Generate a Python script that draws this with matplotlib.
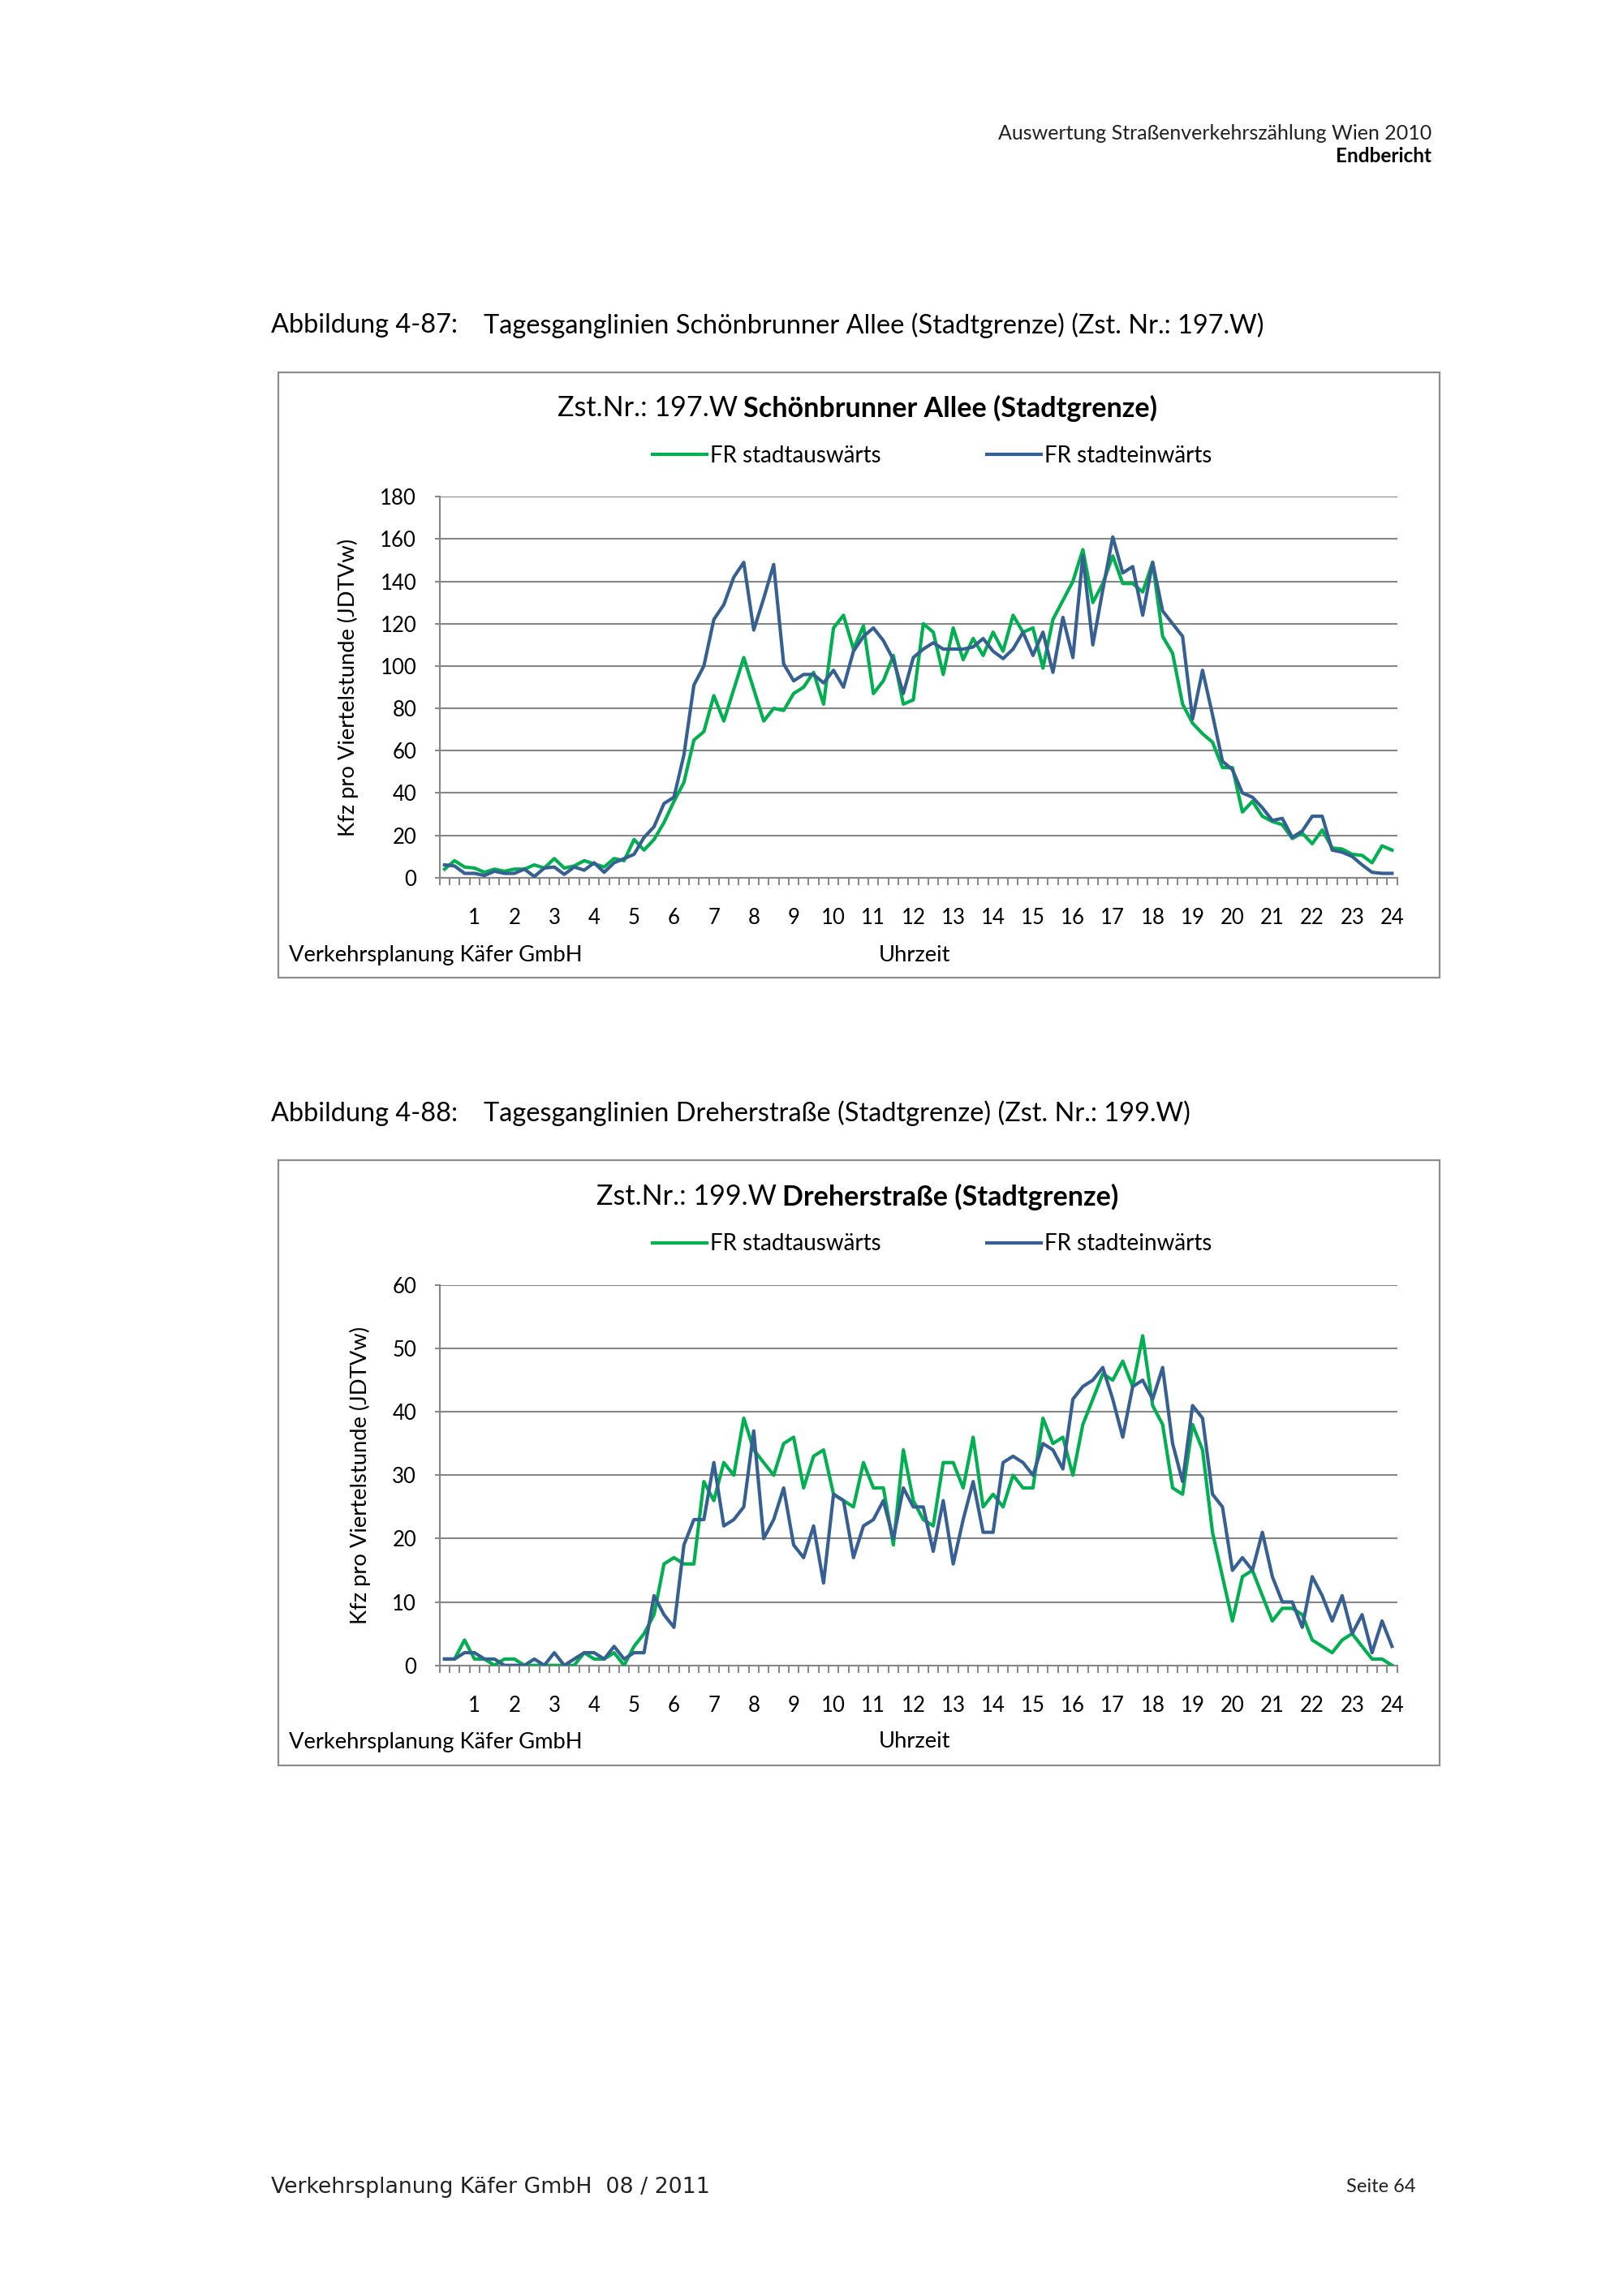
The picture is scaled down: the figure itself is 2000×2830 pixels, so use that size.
import matplotlib
matplotlib.use("Agg")
import matplotlib.pyplot as plt
from matplotlib.lines import Line2D
from matplotlib.patches import Rectangle
from matplotlib.ticker import FixedLocator
import numpy as np

W, H = 2000, 2830

HOURS = list(range(1, 25))
HOUR_LABELS = [str(h) for h in HOURS]
SERIES_LABELS = ["FR stadtauswärts", "FR stadteinwärts"]

# Zst. 197.W Schönbrunner Allee, Kfz pro Viertelstunde (0:15 ... 24:00)
SCH_OUT = [4, 8, 5, 4.5, 2.5, 4, 3, 4, 4, 6, 4.5, 9, 4.5, 5.5, 8, 6.5, 5, 9, 8, 18, 13, 18, 26, 36,
           45, 65, 69, 86, 74, 89, 104, 89, 74, 80, 79, 87, 90, 97, 82, 118, 124, 108, 119, 87, 93, 105, 82, 84,
           120, 116, 96, 118, 103, 113, 105, 116, 107, 124, 116, 118, 99, 122, 131, 140, 155, 130, 139, 152, 139, 139, 135, 149,
           114, 106, 82, 73, 68, 64, 52, 52, 31, 36, 29, 26.5, 25, 18.5, 21, 16, 22.5, 14, 13.5, 11, 10.5, 7, 15, 13]
SCH_IN = [6, 5.5, 2, 2, 1, 3, 2, 2, 4, 0.5, 4.5, 5, 1.5, 5, 3.5, 7, 2.5, 7, 9, 11, 19, 24, 35, 38,
          58, 91, 100, 122, 129, 142, 149, 117, 132, 148, 101, 93, 96, 96, 92, 98, 90, 107, 114, 118, 112, 103, 87, 104,
          108, 111, 108, 108, 108, 109, 113, 107, 103.5, 108, 116, 105, 116, 97, 123, 104, 152, 110, 136, 161, 144, 147, 124, 149,
          126, 120, 114, 75, 98, 77, 55, 51, 40, 38, 33, 27, 28, 19, 22, 29, 29, 13, 12, 10, 6, 2.5, 2, 2]

# Zst. 199.W Dreherstraße
DRE_OUT = [1, 1, 4, 1, 1, 0, 1, 1, 0, 0, 0, 0, 0, 0, 2, 1, 1, 2, 0, 3, 5, 8, 16, 17,
           16, 16, 29, 26, 32, 30, 39, 34, 32, 30, 35, 36, 28, 33, 34, 27, 26, 25, 32, 28, 28, 19, 34, 26,
           23, 22, 32, 32, 28, 36, 25, 27, 25, 30, 28, 28, 39, 35, 36, 30, 38, 42, 46, 45, 48, 44, 52, 41,
           38, 28, 27, 38, 34, 21, 14, 7, 14, 15, 11, 7, 9, 9, 8, 4, 3, 2, 4, 5, 3, 1, 1, 0]
DRE_IN = [1, 1, 2, 2, 1, 1, 0, 0, 0, 1, 0, 2, 0, 1, 2, 2, 1, 3, 1, 2, 2, 11, 8, 6,
          19, 23, 23, 32, 22, 23, 25, 37, 20, 23, 28, 19, 17, 22, 13, 27, 26, 17, 22, 23, 26, 20, 28, 25,
          25, 18, 26, 16, 23, 29, 21, 21, 32, 33, 32, 30, 35, 34, 31, 42, 44, 45, 47, 42, 36, 44, 45, 42,
          47, 35, 29, 41, 39, 27, 25, 15, 17, 15, 21, 14, 10, 10, 6, 14, 11, 7, 11, 5, 8, 2, 7, 3]

GREEN = "#00B050"
BLUE = "#376092"
GRID = "#868686"
BORDER = "#8C8C8C"
CHART_FONT = ["Lato", "DejaVu Sans"]
PAGE_FONT = ["Lato", "DejaVu Sans"]
FS_TICK = 18.5
FS = 19.7
LW = 3.0


def px(x, y):
    """Pixel position (from top left) -> figure fraction."""
    return x / W, 1 - y / H


def two_part_title(fig, cx, y, normal, bold, size):
    r = fig.canvas.get_renderer()
    t1 = fig.text(0, 0, normal, fontsize=size, family=CHART_FONT, va="center_baseline")
    t2 = fig.text(0, 0, bold, fontsize=size, family=CHART_FONT, weight="bold", va="center_baseline")
    w1 = t1.get_window_extent(r).width
    w2 = t2.get_window_extent(r).width
    gap = size * 0.3
    left = cx - (w1 + gap + w2) / 2
    t1.set_position(px(left, y))
    t2.set_position(px(left + w1 + gap, y))


def draw_chart(fig, c, out_vals, in_vals, ymax, ystep):
    # outer chart frame
    x0, y0 = px(343, c["box_bottom"])
    fig.patches.append(Rectangle((x0, y0), (1773.5 - 343) / W, (c["box_bottom"] - c["box_top"]) / H,
                                 transform=fig.transFigure, fill=False, edgecolor=BORDER, lw=1.6))

    left, right = 541.7, 1721.5
    ax = fig.add_axes([left / W, 1 - c["plot_bottom"] / H, (right - left) / W,
                       (c["plot_bottom"] - c["plot_top"]) / H])
    x = np.arange(len(out_vals)) + 0.5
    ax.plot(x, out_vals, color=GREEN, lw=LW, solid_joinstyle="round", zorder=3)
    ax.plot(x, in_vals, color=BLUE, lw=LW, solid_joinstyle="round", zorder=4)

    ax.set_xlim(0, len(out_vals))
    ax.set_ylim(0, ymax)
    ax.set_yticks(np.arange(0, ymax + 1, ystep))
    ax.yaxis.grid(True, color=GRID, lw=1.5)
    ax.set_axisbelow(True)

    ax.xaxis.set_major_locator(FixedLocator([4 * h - 0.5 for h in HOURS]))
    ax.set_xticklabels(HOUR_LABELS)
    ax.xaxis.set_minor_locator(FixedLocator(np.arange(0, len(out_vals) + 1)))
    ax.tick_params(axis="x", which="major", length=0, pad=27, labelsize=FS_TICK)
    ax.tick_params(axis="x", which="minor", length=6.5, width=1.4, color=GRID, direction="out")
    ax.tick_params(axis="y", which="major", length=4, width=1.4, color=GRID, pad=16.5, labelsize=FS_TICK)
    for lab in ax.get_xticklabels() + ax.get_yticklabels():
        lab.set_family(CHART_FONT)

    for s in ("top", "right"):
        ax.spines[s].set_visible(False)
    for s in ("left", "bottom"):
        ax.spines[s].set_color(GRID)
        ax.spines[s].set_linewidth(1.5)

    ax.set_ylabel("Kfz pro Viertelstunde (JDTVw)", fontsize=FS, family=CHART_FONT, labelpad=19)

    two_part_title(fig, 1056.5, c["title_y"], c["title_a"], c["title_b"], 24.6)

    handles = [Line2D([], [], color=GREEN, lw=LW), Line2D([], [], color=BLUE, lw=LW)]
    fig.legend(handles, SERIES_LABELS, loc="center", bbox_to_anchor=px(1148.5, c["legend_y"]),
               ncol=2, frameon=False, prop={"family": CHART_FONT, "size": 20},
               handlelength=2.4, handletextpad=0.15, columnspacing=4.7)

    fig.text(*px(355.8, c["bottom_y"]), "Verkehrsplanung Käfer GmbH", fontsize=FS,
             family=CHART_FONT, va="center")
    fig.text(*px(1127, c["bottom_y"]), "Uhrzeit", fontsize=FS, family=CHART_FONT,
             ha="center", va="center")

    fig.text(*px(334, c["caption_y"]), c["cap_a"], fontsize=23.4, family=PAGE_FONT, va="center")
    fig.text(*px(596, c["caption_y"]), c["cap_b"], fontsize=23.4, family=PAGE_FONT, va="center")
    return ax


def main() -> None:
    fig = plt.figure(figsize=(W / 100, H / 100), dpi=100)
    fig.patch.set_facecolor("white")

    fig.text(*px(1764.5, 164), "Auswertung Straßenverkehrszählung Wien 2010", fontsize=18,
             family=PAGE_FONT, ha="right", va="center", color="#222222")
    fig.text(*px(1764.5, 193), "Endbericht", fontsize=17.5, family=PAGE_FONT, weight="bold",
             ha="right", va="center")

    chart1 = dict(box_top=458.7, box_bottom=1204.6, plot_top=612.3, plot_bottom=1081.7,
                  title_y=500.3, legend_y=561.7, bottom_y=1177.5, caption_y=401,
                  title_a="Zst.Nr.: 197.W", title_b="Schönbrunner Allee (Stadtgrenze)",
                  cap_a="Abbildung 4-87:",
                  cap_b="Tagesganglinien Schönbrunner Allee (Stadtgrenze) (Zst. Nr.: 197.W)")
    chart2 = dict(box_top=1430.4, box_bottom=2176.2, plot_top=1584.0, plot_bottom=2052.7,
                  title_y=1472, legend_y=1533.3, bottom_y=2147, caption_y=1372.6,
                  title_a="Zst.Nr.: 199.W", title_b="Dreherstraße (Stadtgrenze)",
                  cap_a="Abbildung 4-88:",
                  cap_b="Tagesganglinien Dreherstraße (Stadtgrenze) (Zst. Nr.: 199.W)")

    draw_chart(fig, chart1, SCH_OUT, SCH_IN, 180, 20)
    draw_chart(fig, chart2, DRE_OUT, DRE_IN, 60, 10)

    fig.text(*px(334, 2696), "Verkehrsplanung Käfer GmbH  08 / 2011", fontsize=19.3,
             family=["DejaVu Sans"], va="center", color="#222222")
    fig.text(*px(1744.6, 2696), "Seite 64", fontsize=17, family=PAGE_FONT, ha="right",
             va="center", color="#222222")

    fig.savefig("out.png", dpi=100, facecolor="white")
    plt.close(fig)


if __name__ == "__main__":
    main()
